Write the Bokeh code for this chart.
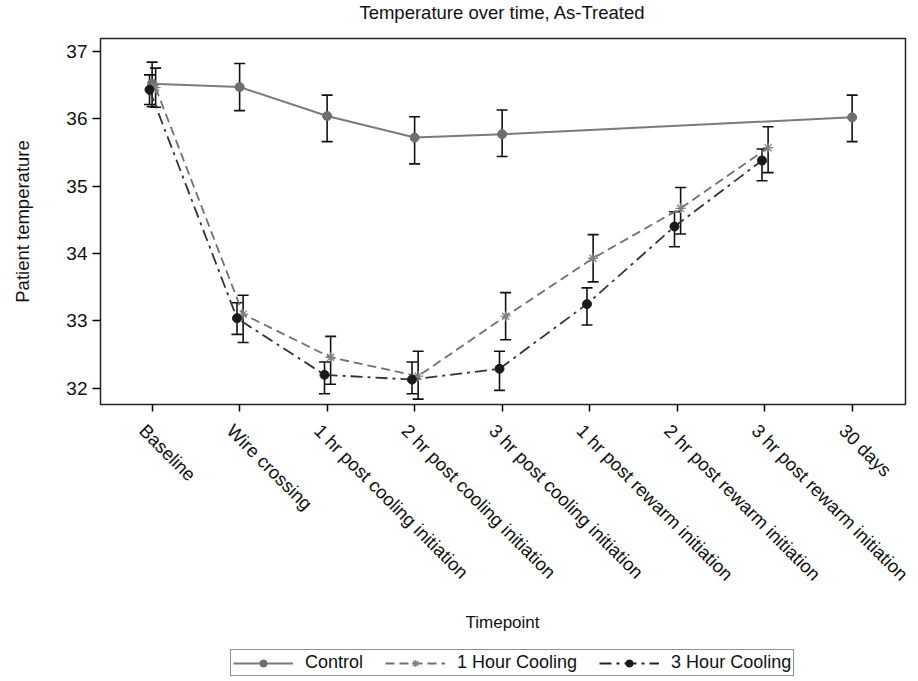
import math
from bokeh.plotting import figure
from bokeh.layouts import column
from bokeh.models import (ColumnDataSource, Whisker, TeeHead, Legend, LegendItem,
                          FixedTicker, Range1d, LinearAxis, CustomJSTickFormatter,
                          Label)
from bokeh.embed import file_html
from bokeh.resources import INLINE

timepoints = ["Baseline", "Wire crossing", "1 hr post cooling initiation",
              "2 hr post cooling initiation", "3 hr post cooling initiation",
              "1 hr post rewarm initiation", "2 hr post rewarm initiation",
              "3 hr post rewarm initiation", "30 days"]

nan = float("nan")
control_mean = [36.52, 36.47, 36.04, 35.72, 35.77, nan, nan, nan, 36.02]
control_lower = [36.18, 36.12, 35.66, 35.33, 35.44, nan, nan, nan, 35.66]
control_upper = [36.84, 36.82, 36.35, 36.03, 36.13, nan, nan, nan, 36.35]

cool1_mean = [36.46, 33.10, 32.46, 32.18, 33.07, 33.93, 34.67, 35.57, nan]
cool1_lower = [36.17, 32.68, 32.06, 31.84, 32.72, 33.58, 34.29, 35.20, nan]
cool1_upper = [36.75, 33.38, 32.77, 32.55, 33.42, 34.28, 34.98, 35.88, nan]

cool3_mean = [36.43, 33.04, 32.20, 32.13, 32.29, 33.25, 34.40, 35.38, nan]
cool3_lower = [36.21, 32.80, 31.92, 31.92, 31.97, 32.94, 34.10, 35.08, nan]
cool3_upper = [36.65, 33.27, 32.39, 32.39, 32.55, 33.49, 34.62, 35.55, nan]

series_names = ["Control", "1 Hour Cooling", "3 Hour Cooling"]
title_text = "Temperature over time, As-Treated"
x_title = "Timepoint"
y_title = "Patient temperature"

FONT = "Liberation Sans"
W = 918

def bare_fig(h):
    # strip whose data ranges lie far from the series, so only its texts show
    f = figure(width=W, height=h, output_backend="svg", toolbar_location=None,
               x_range=Range1d(-1000, -900), y_range=Range1d(-1000, -900),
               min_border=0, min_border_left=0, min_border_right=0,
               min_border_top=0, min_border_bottom=0)
    f.axis.visible = False
    f.grid.visible = False
    f.outline_line_color = None
    return f

# ---- title strip ----
top = bare_fig(26)
top.add_layout(Label(x=402, y=14, x_units="screen", y_units="screen",
                     text=title_text, text_align="center", text_baseline="middle",
                     text_font=FONT, text_font_size="18.5px", text_color="#111111"))

# ---- main plot ----
p = figure(width=W, height=580, output_backend="svg", toolbar_location=None,
           x_range=Range1d(-0.59, 8.61), y_range=Range1d(31.76, 37.19),
           min_border_left=100, min_border_right=13, min_border_top=12,
           min_border_bottom=202)
p.grid.visible = False
p.outline_line_color = "#222222"
p.outline_line_width = 1.5

def make_source(mean, lower, upper, offset):
    xs, ys, lo, up = [], [], [], []
    for i, (m, l, u) in enumerate(zip(mean, lower, upper)):
        if not math.isnan(m):
            xs.append(i + offset)
            ys.append(m)
            lo.append(l)
            up.append(u)
    return ColumnDataSource(dict(x=xs, y=ys, lower=lo, upper=up))

src_c = make_source(control_mean, control_lower, control_upper, 0.0)
src_1 = make_source(cool1_mean, cool1_lower, cool1_upper, 0.04)
src_3 = make_source(cool3_mean, cool3_lower, cool3_upper, -0.03)

line_c = dict(line_color="#7a7a7a", line_width=2)
line_1 = dict(line_color="#707070", line_width=1.8, line_dash="9 5")
line_3 = dict(line_color="#333333", line_width=1.8, line_dash="12 5 3 5")
mk_c = dict(marker="circle", size=9, fill_color="#6e6e6e", line_color="#6e6e6e")
mk_1 = dict(marker="asterisk", size=10, line_color="#808080", line_width=1.3)
mk_3 = dict(marker="circle", size=9, fill_color="#1a1a1a", line_color="#1a1a1a")

p.line("x", "y", source=src_c, **line_c)
p.line("x", "y", source=src_1, **line_1)
p.line("x", "y", source=src_3, **line_3)

for src in (src_c, src_1, src_3):
    p.add_layout(Whisker(source=src, base="x", upper="upper", lower="lower",
                         line_color="#111111", line_width=1.6,
                         upper_head=TeeHead(size=11, line_color="#111111", line_width=1.6),
                         lower_head=TeeHead(size=11, line_color="#111111", line_width=1.6)))

p.scatter("x", "y", source=src_c, **mk_c)
p.scatter("x", "y", source=src_1, **mk_1)
p.scatter("x", "y", source=src_3, **mk_3)

# x axis: tick marks only
p.xaxis.ticker = FixedTicker(ticks=list(range(len(timepoints))))
p.xaxis.formatter = CustomJSTickFormatter(code="return '';")
p.xaxis.major_label_standoff = 0
p.xaxis.major_label_text_font_size = "1px"
p.xaxis.minor_tick_line_color = None
p.xaxis.major_tick_out = 7
p.xaxis.major_tick_in = 0
p.xaxis.major_tick_line_width = 1.5
p.xaxis.axis_line_color = None

# x axis: rotated labels, nudged to sit like the reference
lab_axis = LinearAxis(
    ticker=FixedTicker(ticks=[i - 0.11 for i in range(len(timepoints))]),
    formatter=CustomJSTickFormatter(args=dict(labels=timepoints),
                                    code="return labels[Math.round(tick)];"),
    major_label_orientation=-math.pi / 4,
    major_label_text_font=FONT, major_label_text_font_size="18.5px",
    major_label_text_color="#111111", major_label_standoff=16,
    major_tick_line_color=None, minor_tick_line_color=None,
    major_tick_out=0, major_tick_in=0, axis_line_color=None)
p.add_layout(lab_axis, "below")

p.yaxis.ticker = FixedTicker(ticks=[32, 33, 34, 35, 36, 37])
p.yaxis.major_label_text_font = FONT
p.yaxis.major_label_text_font_size = "19px"
p.yaxis.major_label_text_color = "#111111"
p.yaxis.axis_label = y_title
p.yaxis.axis_label_text_font = FONT
p.yaxis.axis_label_text_font_size = "18.5px"
p.yaxis.axis_label_text_font_style = "normal"
p.yaxis.axis_label_text_color = "#111111"
p.yaxis.axis_label_standoff = 30
p.yaxis.minor_tick_line_color = None
p.yaxis.major_tick_out = 8
p.yaxis.major_tick_in = 0
p.yaxis.major_tick_line_width = 1.5
p.yaxis.axis_line_color = None

# ---- bottom strip: x title + legend ----
bot = bare_fig(75)
bot.add_layout(Label(x=402, y=59, x_units="screen", y_units="screen",
                     text=x_title, text_align="center", text_baseline="middle",
                     text_font=FONT, text_font_size="17px", text_color="#111111"))
r_lc = bot.line("x", "y", source=src_c, **line_c)
r_mc = bot.scatter("x", "y", source=src_c, **mk_c)
r_l1 = bot.line("x", "y", source=src_1, **line_1)
r_m1 = bot.scatter("x", "y", source=src_1, **mk_1)
r_l3 = bot.line("x", "y", source=src_3, line_color="#222222", line_width=1.8,
                line_dash="12 5 3 5")
r_m3 = bot.scatter("x", "y", source=src_3, **mk_3)
legend = Legend(items=[
    LegendItem(label=series_names[0], renderers=[r_lc, r_mc]),
    LegendItem(label=series_names[1], renderers=[r_l1, r_m1]),
    LegendItem(label=series_names[2], renderers=[r_l3, r_m3]),
], orientation="horizontal", location=(130, 5),
    label_text_font=FONT, label_text_font_size="18px", label_text_color="#111111",
    glyph_width=60, glyph_height=18, label_height=18, label_standoff=12,
    spacing=22, padding=2, margin=0,
    border_line_color="#222222", border_line_width=1.5,
    background_fill_alpha=0)
bot.add_layout(legend, "center")

layout = column(top, p, bot, spacing=0)
open("out.html", "w").write(file_html(layout, INLINE))
